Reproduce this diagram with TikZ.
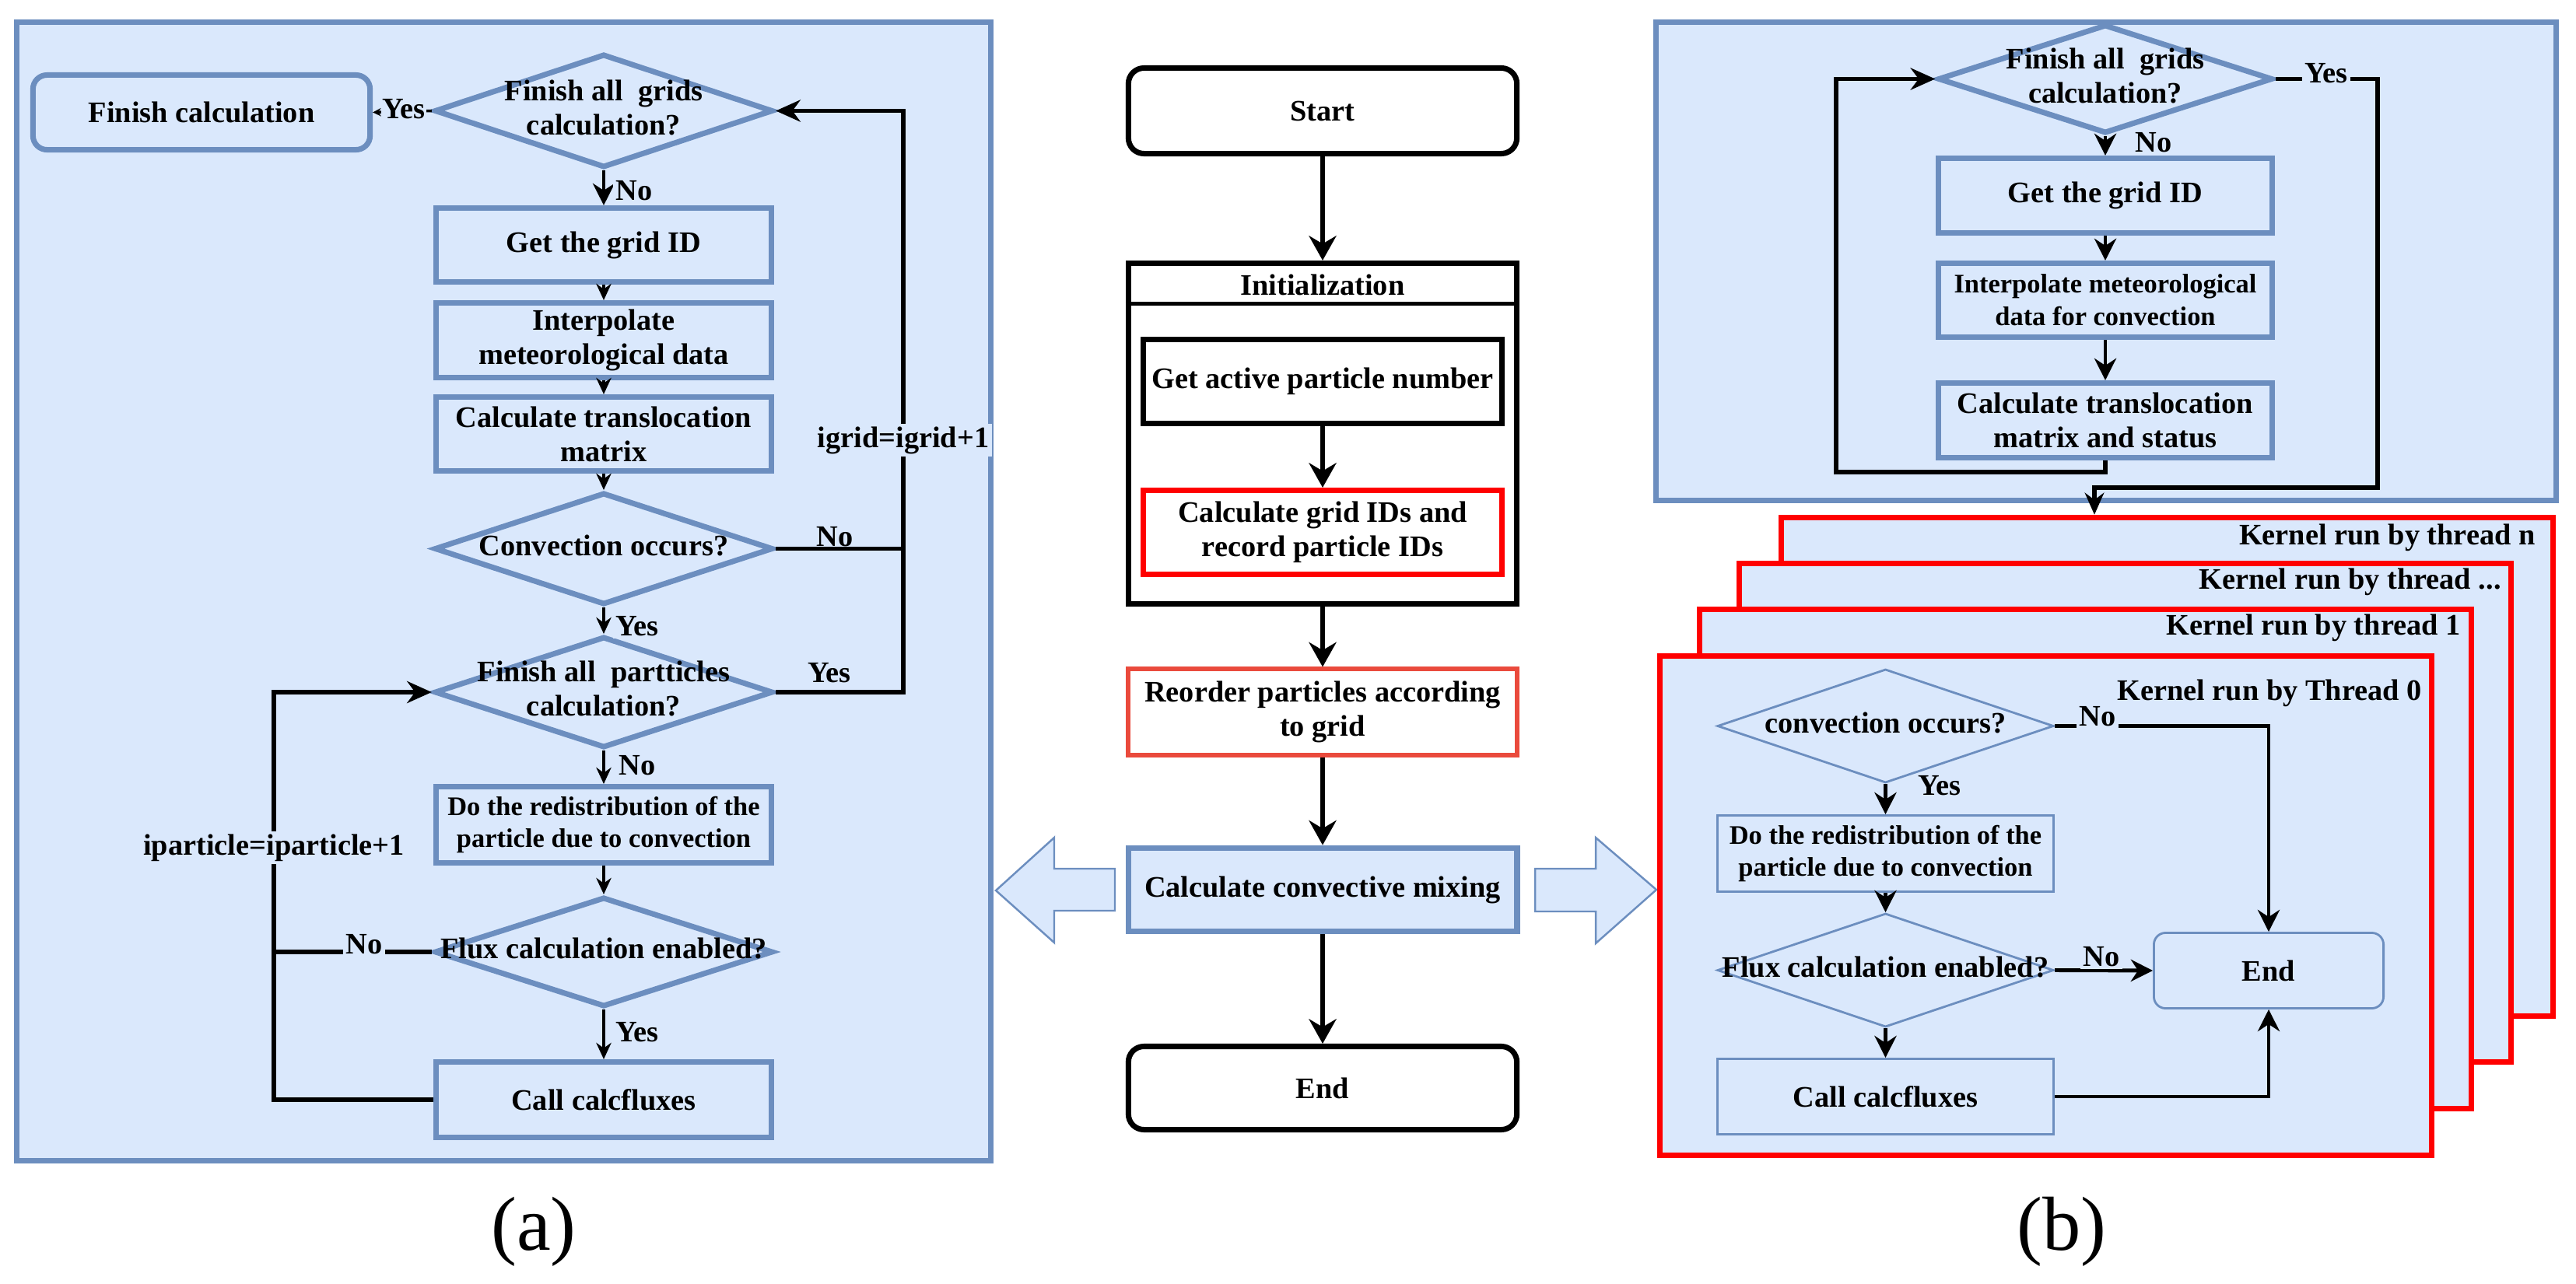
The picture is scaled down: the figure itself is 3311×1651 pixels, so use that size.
\documentclass[tikz,border=0pt]{standalone}
\usepackage{fontspec}
\setmainfont{Liberation Serif}
\usepackage{xcolor}
\usetikzlibrary{shapes.geometric,arrows.meta,calc}
\definecolor{panelblue}{HTML}{DAE8FC}
\definecolor{edgeblue}{HTML}{6C8EBF}
\definecolor{kernelred}{HTML}{FF0000}
\definecolor{reorderred}{HTML}{EA4A3C}

\newcommand{\dtext}[1]{\makebox[0pt]{\begin{tabular}{@{}c@{}}#1\end{tabular}}}

\tikzset{
  flowfont/.style={font=\fontsize{10.9}{12.5}\selectfont\bfseries},
  smallfont/.style={font=\fontsize{9.8}{11.9}\selectfont\bfseries},
  panelframe/.style={draw=edgeblue, fill=panelblue, line width=2pt},
  bluebox/.style={rectangle, draw=edgeblue, fill=panelblue, line width=2pt, flowfont, align=center, inner sep=1pt},
  bluediamond/.style={diamond, draw=edgeblue, fill=panelblue, line width=2pt, flowfont, inner sep=0pt},
  thinbox/.style={rectangle, draw=edgeblue, fill=panelblue, line width=0.8pt, flowfont, align=center, inner sep=1pt},
  thindiamond/.style={diamond, draw=edgeblue, fill=panelblue, line width=0.8pt, flowfont, inner sep=0pt},
  blackbox/.style={rectangle, draw=black, fill=white, line width=2pt, flowfont, align=center, inner sep=1pt},
  kernelbox/.style={rectangle, draw=kernelred, fill=panelblue, line width=2pt, minimum width=9.92cm, minimum height=6.41cm},
  tag/.style={flowfont, fill=panelblue, inner sep=1pt},
  smallarrow/.style={line width=1pt, -{Stealth[length=6pt,width=5.5pt]}},
  bigarrow/.style={line width=1.4pt, -{Stealth[length=8pt,width=8pt]}},
  loopline/.style={line width=1.5pt},
  mainarrow/.style={line width=1.7pt, -{Stealth[length=9pt,width=10pt]}}
}

\begin{document}
\begin{tikzpicture}[x=0.01cm, y=-0.01cm]
  \useasboundingbox (0,0) rectangle (3311,1651);

  \draw[panelframe] (21.5,28.5) rectangle (1273.5,1492.5);

  \node[bluebox, rounded corners=0.18cm, minimum width=4.33cm, minimum height=0.96cm] (finishcalc) at (259,144.5) {Finish calculation};
  \node[bluediamond, minimum width=4.35cm, minimum height=1.46cm] (gridsA) at (776,142.5) {\dtext{Finish all\ \ grids\\calculation?}};
  \node[bluebox, minimum width=4.31cm, minimum height=0.95cm] (grididA) at (776,315) {Get the grid ID};
  \node[bluebox, minimum width=4.31cm, minimum height=0.96cm] (interpA) at (776,437.5) {Interpolate\\meteorological data};
  \node[bluebox, minimum width=4.31cm, minimum height=0.95cm] (translA) at (776,558) {Calculate translocation\\matrix};
  \node[bluediamond, minimum width=4.35cm, minimum height=1.44cm] (convA) at (776,705.5) {\dtext{Convection occurs?}};
  \node[bluediamond, minimum width=4.35cm, minimum height=1.43cm] (partA) at (776,890) {\dtext{Finish all\ \ partticles\\calculation?}};
  \node[bluebox, smallfont, minimum width=4.31cm, minimum height=0.98cm] (redistA) at (776,1060.5) {Do the redistribution of the\\particle due to convection};
  \node[bluediamond, minimum width=4.35cm, minimum height=1.41cm] (fluxA) at (776,1224) {\dtext{Flux calculation enabled?}};
  \node[bluebox, minimum width=4.31cm, minimum height=0.97cm] (callA) at (776,1414) {Call calcfluxes};

  \coordinate (igridcol) at (1161,142.5);
  \coordinate (ipartcol) at (352,890);

  \draw[line width=1pt, -{Stealth[length=3pt,width=3pt]}] (gridsA.west) -- (finishcalc.east);
  \node[flowfont, fill=panelblue, inner sep=0.5pt] (yesfinish) at (519,140) {Yes};
  \draw[bigarrow] (gridsA.south) -- (grididA.north);
  \node[tag] (nogrids) at (815,245) {No};
  \draw[smallarrow] (grididA) -- (interpA);
  \draw[smallarrow] (interpA) -- (translA);
  \draw[smallarrow] (translA) -- (convA);
  \draw[loopline] (convA.east) -- (convA.east -| igridcol);
  \node[flowfont] (noconv) at (1073,690) {No};
  \draw[smallarrow] (convA.south) -- (partA.north);
  \node[tag] (yesconv) at (819,805) {Yes};
  \draw[loopline, -{Stealth[length=9pt,width=8pt]}] (partA.east) -| (igridcol) -- (gridsA.east);
  \node[flowfont] (yespart) at (1066,865) {Yes};
  \node[tag] (igrid) at (1161,566) {igrid=igrid+1};
  \draw[smallarrow] (partA.south) -- (redistA.north);
  \node[tag] (nopart) at (819,984) {No};
  \draw[smallarrow] (redistA) -- (fluxA);
  \draw[loopline] (fluxA.west) -- (fluxA.west -| ipartcol);
  \node[tag] (noflux) at (468,1214) {No};
  \draw[smallarrow] (fluxA.south) -- (callA.north);
  \node[tag] (yesflux) at (819,1327) {Yes};
  \draw[loopline, -{Stealth[length=9pt,width=8pt]}] (callA.west) -| (ipartcol) -- (partA.west);
  \node[tag] (ipart) at (352,1090) {iparticle=iparticle+1};

  \node[blackbox, rounded corners=0.2cm, minimum width=4.99cm, minimum height=1.1cm] (start) at (1700,142.5) {Start};
  \node[blackbox, minimum width=4.99cm, minimum height=4.38cm] (initbox) at (1700,557.5) {};
  \draw[line width=1.4pt] ($(initbox.north west)+(0,56)$) -- ($(initbox.north east)+(0,56)$);
  \node[flowfont] (inittitle) at (1700,366) {Initialization};
  \node[blackbox, minimum width=4.61cm, minimum height=1.08cm] (active) at (1700,490.5) {Get active particle number};
  \node[blackbox, draw=kernelred, minimum width=4.61cm, minimum height=1.08cm] (gridids) at (1700,684.5) {Calculate grid IDs and\\record particle IDs};
  \node[blackbox, draw=reorderred, line width=1.7pt, minimum width=4.99cm, minimum height=1.1cm] (reorder) at (1700,915.5) {Reorder particles according\\to grid};
  \node[bluebox, line width=2.2pt, minimum width=4.99cm, minimum height=1.07cm] (mixing) at (1700,1144) {Calculate convective mixing};
  \node[blackbox, rounded corners=0.2cm, minimum width=4.99cm, minimum height=1.07cm] (endc) at (1700,1399) {End};

  \draw[mainarrow] (start) -- (initbox);
  \draw[mainarrow] (active) -- (gridids);
  \draw[mainarrow] (initbox) -- (reorder);
  \draw[mainarrow] (reorder) -- (mixing);
  \draw[mainarrow] (mixing) -- (endc);

  \draw[draw=edgeblue, fill=panelblue, line width=0.7pt] (1280,1145) -- (1355,1077) -- (1355,1117) -- (1433,1117) -- (1433,1171) -- (1355,1171) -- (1355,1212) -- cycle;
  \draw[draw=edgeblue, fill=panelblue, line width=0.7pt] (2129,1144) -- (2051,1077) -- (2051,1117) -- (1973,1117) -- (1973,1172) -- (2051,1172) -- (2051,1213) -- cycle;

  \draw[panelframe] (2128.5,28.5) rectangle (3285.5,643.5);

  \node[bluediamond, minimum width=4.3cm, minimum height=1.4cm] (gridsB) at (2706,101.5) {\dtext{Finish all\ \ grids\\calculation?}};
  \node[bluebox, minimum width=4.29cm, minimum height=0.96cm] (grididB) at (2706,251.5) {Get the grid ID};
  \node[bluebox, smallfont, minimum width=4.29cm, minimum height=0.95cm] (interpB) at (2706,386) {Interpolate meteorological\\data for convection};
  \node[bluebox, minimum width=4.29cm, minimum height=0.96cm] (translB) at (2706,540.5) {Calculate translocation\\matrix and status};

  \node[kernelbox] (kernelN) at (2785.5,986) {};
  \node[flowfont, anchor=east] (labelN) at (3271,691) {Kernel run by thread n};
  \node[kernelbox] (kernelD) at (2731.5,1045) {};
  \node[flowfont, anchor=east] (labelD) at (3227,748) {Kernel run by thread ...};
  \node[kernelbox] (kernelOne) at (2680.5,1104.5) {};
  \node[flowfont, anchor=east] (labelOne) at (3175,807) {Kernel run by thread 1};
  \node[kernelbox] (kernelZero) at (2629.5,1164.5) {};
  \node[flowfont, anchor=east] (labelZero) at (3125,891) {Kernel run by Thread 0};

  \coordinate (loopB) at (2360,607);
  \coordinate (yesB) at (3056,627);
  \coordinate (dropB) at (2692,627);

  \draw[bigarrow] (gridsB.south) -- (grididB.north);
  \node[flowfont] (nogridsB) at (2768,183) {No};
  \draw[bigarrow] (grididB) -- (interpB);
  \draw[bigarrow] (interpB) -- (translB);
  \draw[loopline, -{Stealth[length=9pt,width=8pt]}] (translB.south) |- (loopB) |- (gridsB.west);
  \draw[loopline, -{Stealth[length=8pt,width=7pt]}] (gridsB.east) -| (yesB) -- (dropB) -- (dropB |- kernelN.north);
  \node[tag] (yesgridsB) at (2990,94) {Yes};

  \node[thindiamond, minimum width=4.32cm, minimum height=1.46cm] (convK) at (2423.5,933.5) {\dtext{convection occurs?}};
  \node[thinbox, smallfont, minimum width=4.32cm, minimum height=0.98cm] (redistK) at (2423.5,1097.5) {Do the redistribution of the\\particle due to convection};
  \node[thindiamond, minimum width=4.32cm, minimum height=1.46cm] (fluxK) at (2423.5,1247.5) {\dtext{Flux calculation enabled?}};
  \node[thinbox, minimum width=4.32cm, minimum height=0.97cm] (callK) at (2423.5,1410) {Call calcfluxes};
  \node[thinbox, rounded corners=0.15cm, minimum width=2.95cm, minimum height=0.97cm] (endK) at (2916,1248) {End};

  \draw[bigarrow] (convK.east) -| (endK.north);
  \node[tag] (noconvK) at (2696,921) {No};
  \draw[bigarrow] (convK.south) -- (redistK.north);
  \node[flowfont] (yesconvK) at (2493,1010) {Yes};
  \draw[bigarrow] (redistK) -- (fluxK);
  \draw[bigarrow] (fluxK.east) -- (endK.west);
  \node[tag] (nofluxK) at (2701,1230) {No};
  \draw[bigarrow] (fluxK.south) -- (callK.north);
  \draw[bigarrow] (callK.east) -| (endK.south);

  \node[font=\fontsize{28}{30}\selectfont] (capA) at (686,1584) {(a)};
  \node[font=\fontsize{28}{30}\selectfont] (capB) at (2650,1584) {(b)};
\end{tikzpicture}
\end{document}
